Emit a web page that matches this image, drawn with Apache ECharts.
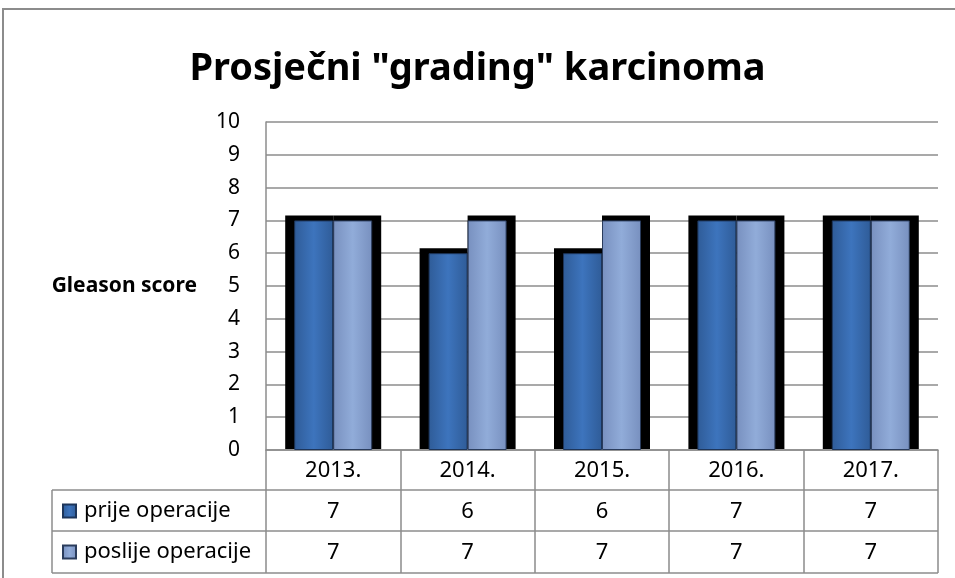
<!DOCTYPE html>
<html>
<head>
<meta charset="utf-8">
<script src="https://cdn.jsdelivr.net/npm/echarts@6/dist/echarts.min.js"></script>
<style>
  html, body { margin: 0; padding: 0; background: #fff; }
  #chart { width: 955px; height: 578px; }
</style>
</head>
<body>
<div id="chart"></div>
<script>
  // podaci
  const years = ['2013.', '2014.', '2015.', '2016.', '2017.']
  const prije = [7, 6, 6, 7, 7]
  const poslije = [7, 7, 7, 7, 7]
  const seriesNames = ['prije operacije', 'poslije operacije']
  const yTicks = [0, 10, 1] // min, max, interval

  const font = 'Noto Sans'
  const gray = '#8c8c8c'
  const barW = 39

  const grad = (edge, mid) => new echarts.graphic.LinearGradient(0, 0, 1, 0, [
    { offset: 0, color: edge },
    { offset: 0.5, color: mid },
    { offset: 1, color: edge }
  ])

  const chart = echarts.init(document.getElementById('chart'))

  const option = {
    animation: false,
    title: {
      text: 'Prosječni "grading" karcinoma',
      left: 'center',
      top: 45,
      textStyle: { fontFamily: font, fontSize: 38, fontWeight: 'bold', color: '#000' }
    },
    legend: [0, 1].map(k => ({
      data: [seriesNames[k]],
      left: 57,
      top: k === 0 ? 495 : 536,
      icon: 'rect',
      itemWidth: 13,
      itemHeight: 13,
      textStyle: { fontFamily: font, fontSize: 22, color: '#000', padding: [0, 0, 0, 3] }
    })),
    grid: { left: 266, right: 17, top: 122, bottom: 128 },
    xAxis: {
      type: 'category',
      data: years,
      axisLine: { lineStyle: { color: gray, width: 1.5 } },
      axisTick: { show: true, length: 123, lineStyle: { color: gray, width: 1.5 } },
      axisLabel: {
        margin: 0,
        fontFamily: font,
        fontSize: 22,
        color: '#000',
        lineHeight: 41,
        formatter: (v, i) => `{y|${v}}\n{v|${prije[i]}}\n{v|${poslije[i]}}`,
        rich: {
          y: { fontFamily: font, fontSize: 22, color: '#000', lineHeight: 41 },
          v: { fontFamily: font, fontSize: 22, color: '#000', lineHeight: 41 }
        }
      }
    },
    yAxis: {
      type: 'value',
      min: yTicks[0],
      max: yTicks[1],
      interval: yTicks[2],
      name: 'Gleason score',
      nameLocation: 'middle',
      nameRotate: 0,
      nameGap: 69,
      nameTextStyle: { fontFamily: font, fontSize: 21, fontWeight: 'bold', color: '#000', align: 'right', verticalAlign: 'middle' },
      axisLine: { show: true, lineStyle: { color: gray, width: 1.5 } },
      axisTick: { show: false },
      axisLabel: { margin: 26, fontFamily: font, fontSize: 21, color: '#000' },
      splitLine: { lineStyle: { color: gray, width: 1.5 } }
    },
    graphic: [
      { type: 'rect', shape: { x: 3, y: 9, width: 1000, height: 1000 }, style: { fill: 'none', stroke: gray, lineWidth: 2 }, silent: true },
      { type: 'line', shape: { x1: 52, y1: 490, x2: 938, y2: 490 }, style: { stroke: gray, lineWidth: 1.5 } },
      { type: 'line', shape: { x1: 52, y1: 531, x2: 938, y2: 531 }, style: { stroke: gray, lineWidth: 1.5 } },
      { type: 'line', shape: { x1: 52, y1: 573, x2: 938, y2: 573 }, style: { stroke: gray, lineWidth: 1.5 } },
      { type: 'line', shape: { x1: 52, y1: 490, x2: 52, y2: 573 }, style: { stroke: gray, lineWidth: 1.5 } }
    ],
    series: [
      {
        // crni obrub oko grupe stupaca
        type: 'custom',
        z: 1,
        silent: true,
        data: years.map((y, i) => [i, prije[i], poslije[i]]),
        renderItem: (params, api) => {
          const i = api.value(0)
          const base = api.coord([i, 0])
          const t1 = api.coord([i, api.value(1)])[1]
          const t2 = api.coord([i, api.value(2)])[1]
          const c = base[0]
          const pad = 9
          const bottom = base[1] - 1
          return {
            type: 'group',
            children: [
              { type: 'rect', shape: { x: c - barW - pad, y: t1 - 5, width: barW + pad, height: bottom - t1 + 5 }, style: { fill: '#000' } },
              { type: 'rect', shape: { x: c, y: t2 - 5, width: barW + pad, height: bottom - t2 + 5 }, style: { fill: '#000' } }
            ]
          }
        }
      },
      {
        name: seriesNames[0],
        type: 'bar',
        z: 3,
        data: prije,
        barWidth: barW,
        barGap: '0%',
        itemStyle: { color: grad('#2f5c98', '#3d74bd'), borderColor: '#1d355a', borderWidth: 1 }
      },
      {
        name: seriesNames[1],
        type: 'bar',
        z: 3,
        data: poslije,
        barWidth: barW,
        barGap: '0%',
        itemStyle: { color: grad('#7890bf', '#91acd9'), borderColor: '#2a3c5c', borderWidth: 1 }
      }
    ]
  }

  chart.setOption(option)
</script>
</body>
</html>
